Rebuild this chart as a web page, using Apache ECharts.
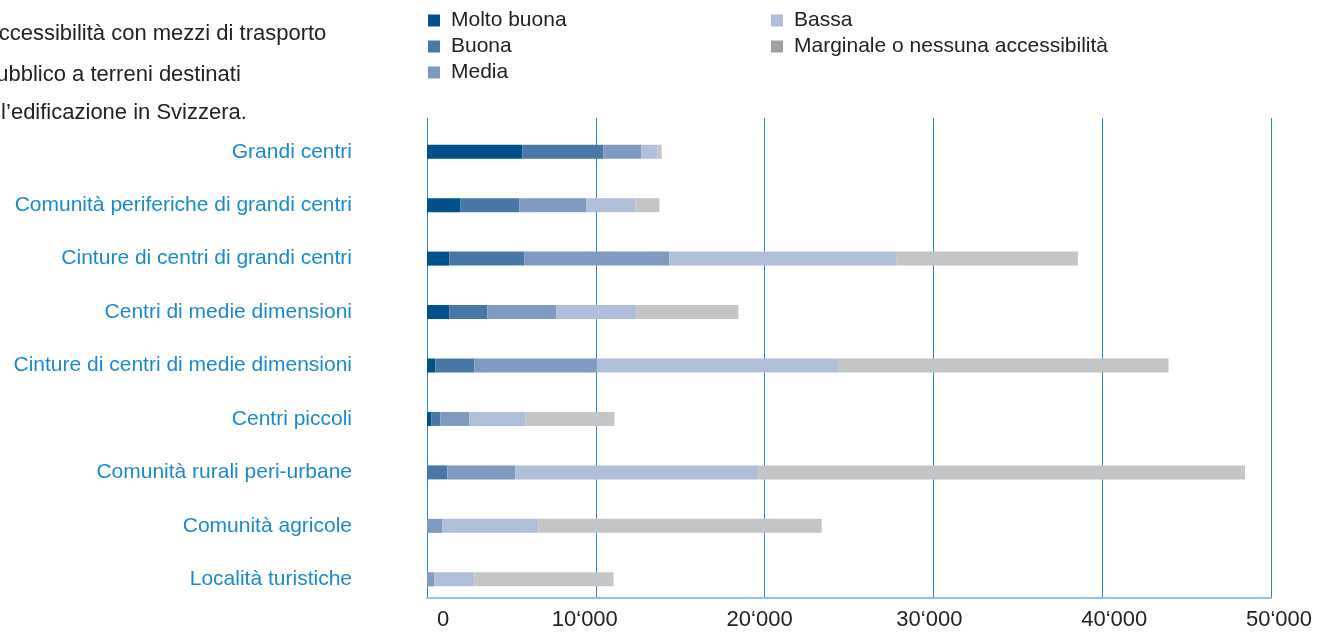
<!DOCTYPE html>
<html>
<head>
<meta charset="utf-8">
<script src="https://cdn.jsdelivr.net/npm/echarts@6/dist/echarts.min.js"></script>
<style>
html,body{margin:0;padding:0;background:#fff;}
#c{width:1330px;height:632px;}
</style>
</head>
<body>
<div id="c"></div>
<script>
const categories = [
  "Grandi centri",
  "Comunità periferiche di grandi centri",
  "Cinture di centri di grandi centri",
  "Centri di medie dimensioni",
  "Cinture di centri di medie dimensioni",
  "Centri piccoli",
  "Comunità rurali peri-urbane",
  "Comunità agricole",
  "Località turistiche"
];
const seriesNames = ["Molto buona", "Buona", "Media", "Bassa", "Marginale o nessuna accessibilità"];
const moltoBuona = [5660, 1990, 1330, 1330, 500, 270, 0, 0, 0];
const buona      = [4800, 3490, 4440, 2250, 2310, 530, 1210, 0, 0];
const media      = [2250, 3970, 8590, 4090, 7230, 1720, 4030, 920, 440];
const bassa      = [950, 2900, 13430, 4740, 14310, 3320, 14400, 5690, 2370];
const marginale  = [240, 1420, 10770, 6040, 19580, 5270, 28820, 16770, 8240];
const xTicks = [0, 10000, 20000, 30000, 40000, 50000];
const titleLines = ["Accessibilità con mezzi di trasporto", "pubblico a terreni destinati", "all’edificazione in Svizzera."];

const colors = ["#00508c", "#4878a8", "#7f9ac0", "#b0bfd9", "#c4c5c7"];
const legendIconColors = ["#00508c", "#4878a8", "#7f9ac0", "#b0bfd9", "#a0a0a0"];
const values = [moltoBuona, buona, media, bassa, marginale];
const FONT = "Liberation Sans";

// small horizontal nudges of the tick labels, as placed in the reference
const labelNudge = [16, -11, -5, -4, 12, 8];
const rich = {};
labelNudge.forEach((d, i) => {
  rich['t' + i] = {
    fontSize: 22, color: '#222', fontFamily: FONT,
    padding: d >= 0 ? [0, 0, 0, 2 * d] : [0, -2 * d, 0, 0]
  };
});

const chart = echarts.init(document.getElementById('c'), null, {renderer: 'canvas'});

const series = seriesNames.map((n, i) => ({
  name: n,
  type: 'bar',
  stack: 'tot',
  barWidth: 14,
  xAxisIndex: 0,
  yAxisIndex: 0,
  itemStyle: {color: colors[i]},
  emphasis: {disabled: true},
  data: values[i]
}));

function legendItems(idx) {
  return idx.map(i => ({name: seriesNames[i], itemStyle: {color: legendIconColors[i]}}));
}
const legendBase = {
  orient: 'vertical', top: 5,
  itemWidth: 12, itemHeight: 12, itemGap: 5,
  icon: 'rect',
  selectedMode: false,
  textStyle: {fontSize: 21, lineHeight: 21, color: '#222', fontFamily: FONT, padding: [0, 0, 0, 6]}
};

chart.setOption({
  animation: false,
  textStyle: {fontFamily: FONT},
  grid: [
    {left: 427, right: 59, top: 125, height: 481, containLabel: false},
    {left: 427, right: 59, top: 118, height: 480, containLabel: false}
  ],
  legend: [
    Object.assign({}, legendBase, {left: 423, data: legendItems([0, 1, 2])}),
    Object.assign({}, legendBase, {left: 766, data: legendItems([3, 4])})
  ],
  xAxis: [
    {
      type: 'value', gridIndex: 0,
      min: xTicks[0], max: xTicks[xTicks.length - 1], interval: 10000,
      show: false
    },
    {
      type: 'value', gridIndex: 1,
      min: xTicks[0], max: xTicks[xTicks.length - 1], interval: 10000,
      axisLine: {show: true, lineStyle: {color: '#8ec5e8', width: 2}},
      axisTick: {show: false},
      splitLine: {show: true, lineStyle: {color: '#2a88c8', width: 1}},
      axisLabel: {
        fontSize: 22, color: '#222', margin: 11, fontFamily: FONT,
        formatter: (v) => {
          const i = xTicks.indexOf(v);
          const s = v === 0 ? '0' : String(v).replace(/\B(?=(\d{3})+(?!\d))/g, '‘');
          return i >= 0 ? '{t' + i + '|' + s + '}' : s;
        },
        rich: rich
      }
    }
  ],
  yAxis: [
    {
      type: 'category', gridIndex: 0,
      inverse: true,
      data: categories,
      axisLine: {show: false},
      axisTick: {show: false},
      splitLine: {show: false},
      axisLabel: {fontSize: 21, color: '#1a8ad0', margin: 75, fontFamily: FONT}
    },
    {
      type: 'value', gridIndex: 1, min: 0, max: 1,
      show: false, splitLine: {show: false}
    }
  ],
  graphic: titleLines.map((t, i) => ({
    type: 'text',
    left: -16,
    top: [23, 64, 102][i],
    style: {text: t, fontSize: 22, fill: '#222', fontFamily: FONT}
  })),
  series: series
});
</script>
</body>
</html>
